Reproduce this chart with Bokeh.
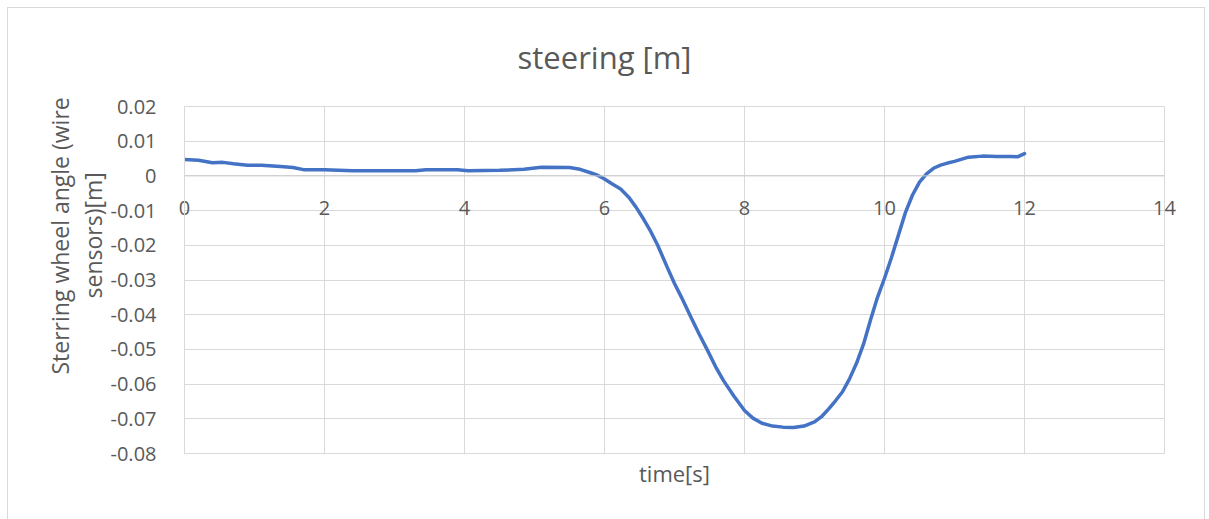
from bokeh.plotting import figure
from bokeh.models import (FixedTicker, NumeralTickFormatter, Title, Span,
                          ColumnDataSource)
from bokeh.embed import file_html
from bokeh.resources import INLINE

# ---- data ----
time_s = [0, 0.2, 0.4, 0.55, 0.7, 0.9, 1.1, 1.37, 1.55, 1.7, 2.0, 2.4, 2.8, 3.3,
          3.45, 3.9, 4.05, 4.5, 4.85, 5.1, 5.5, 5.65, 5.8, 5.9, 6.0, 6.1, 6.23,
          6.35, 6.45, 6.56, 6.66, 6.76, 6.9, 7.0, 7.1, 7.23, 7.35, 7.47, 7.6, 7.7,
          7.85, 8.0, 8.12, 8.25, 8.4, 8.55, 8.7, 8.85, 9.0, 9.1, 9.2, 9.3, 9.4,
          9.5, 9.6, 9.7, 9.8, 9.9, 10.0, 10.1, 10.2, 10.3, 10.4, 10.5, 10.6, 10.7,
          10.8, 10.9, 11.0, 11.2, 11.4, 11.6, 11.8, 11.9, 12.0]
steering_m = [0.0047, 0.0045, 0.0038, 0.0039, 0.0035, 0.0031, 0.0031, 0.0027,
              0.0024, 0.0018, 0.0018, 0.0015, 0.0015, 0.0015, 0.0018, 0.0018,
              0.0015, 0.0016, 0.0019, 0.0025, 0.0024, 0.0019, 0.0009, 0.0002,
              -0.0009, -0.0022, -0.0038, -0.0062, -0.0090, -0.0125, -0.0160,
              -0.0200, -0.0265, -0.0310, -0.0350, -0.0405, -0.0455, -0.0502,
              -0.0555, -0.0590, -0.0635, -0.0676, -0.0698, -0.0713, -0.0721,
              -0.0724, -0.0725, -0.0721, -0.0709, -0.0694, -0.0672, -0.0648,
              -0.0622, -0.0585, -0.0540, -0.0485, -0.0415, -0.0350, -0.0295,
              -0.0235, -0.0170, -0.0105, -0.0055, -0.0018, 0.0006, 0.0022,
              0.0031, 0.0037, 0.0042, 0.0054, 0.0057, 0.0056, 0.0056, 0.0055,
              0.0064]
x_ticks = [0, 2, 4, 6, 8, 10, 12, 14]
y_ticks = [-0.08, -0.07, -0.06, -0.05, -0.04, -0.03, -0.02, -0.01, 0, 0.01, 0.02]

title_text = "steering [m]"
ylabel_lines = ["Sterring wheel angle (wire", "sensors)[m]"]
xlabel_text = "time[s]"

FONT = "Open Sans"
TXT = "#595959"
GRID = "#d9d9d9"

p = figure(width=1198, height=520, output_backend="svg", toolbar_location=None,
           x_range=(0, 14), y_range=(-0.08, 0.02),
           min_border_left=176, min_border_right=42, min_border_top=98,
           min_border_bottom=75, background_fill_color="white",
           border_fill_color="white", outline_line_color=GRID,
           outline_line_width=1, margin=(7, 0, 0, 7),
           styles={"border": "1px solid #d9d9d9"})
p.title.visible = False

p.xaxis.ticker = FixedTicker(ticks=x_ticks)
p.yaxis.ticker = FixedTicker(ticks=y_ticks)
p.xgrid.ticker = FixedTicker(ticks=x_ticks)
p.ygrid.ticker = FixedTicker(ticks=y_ticks)
p.yaxis.formatter = NumeralTickFormatter(format="0.[00]")

for g in (p.xgrid, p.ygrid):
    g.grid_line_color = GRID
    g.grid_line_width = 1

for ax in (p.xaxis, p.yaxis):
    ax.axis_line_color = GRID
    ax.axis_line_width = 1
    ax.major_tick_line_color = None
    ax.minor_tick_line_color = None
    ax.major_label_text_font = FONT
    ax.major_label_text_font_size = "20px"
    ax.major_label_text_color = TXT
# x tick labels sit just under the zero line, as in the reference
p.xaxis.major_label_standoff = -259
p.yaxis.major_label_standoff = 22

p.add_layout(Span(location=0, dimension="width", line_color="#cccccc", line_width=1))

src = ColumnDataSource(dict(t=time_s, v=steering_m))
p.line("t", "v", source=src, line_color="#4472C4", line_width=3.5,
       line_join="round", line_cap="round")

p.add_layout(Title(text=title_text, align="left", offset=333, standoff=54,
                   vertical_align="top",
                   text_font=FONT, text_font_size="31px", text_color=TXT,
                   text_font_style="normal"), "above")
p.add_layout(Title(text=ylabel_lines[1], align="left", offset=155, standoff=-2,
                   text_font=FONT, text_font_size="23px", text_color=TXT,
                   text_font_style="normal"), "left")
p.add_layout(Title(text=ylabel_lines[0], align="left", offset=79, standoff=-1,
                   text_font=FONT, text_font_size="23px", text_color=TXT,
                   text_font_style="normal"), "left")
p.add_layout(Title(text=xlabel_text, align="center", standoff=4,
                   text_font=FONT, text_font_size="22px", text_color=TXT,
                   text_font_style="normal"), "below")

open("out.html", "w").write(file_html(p, INLINE))
